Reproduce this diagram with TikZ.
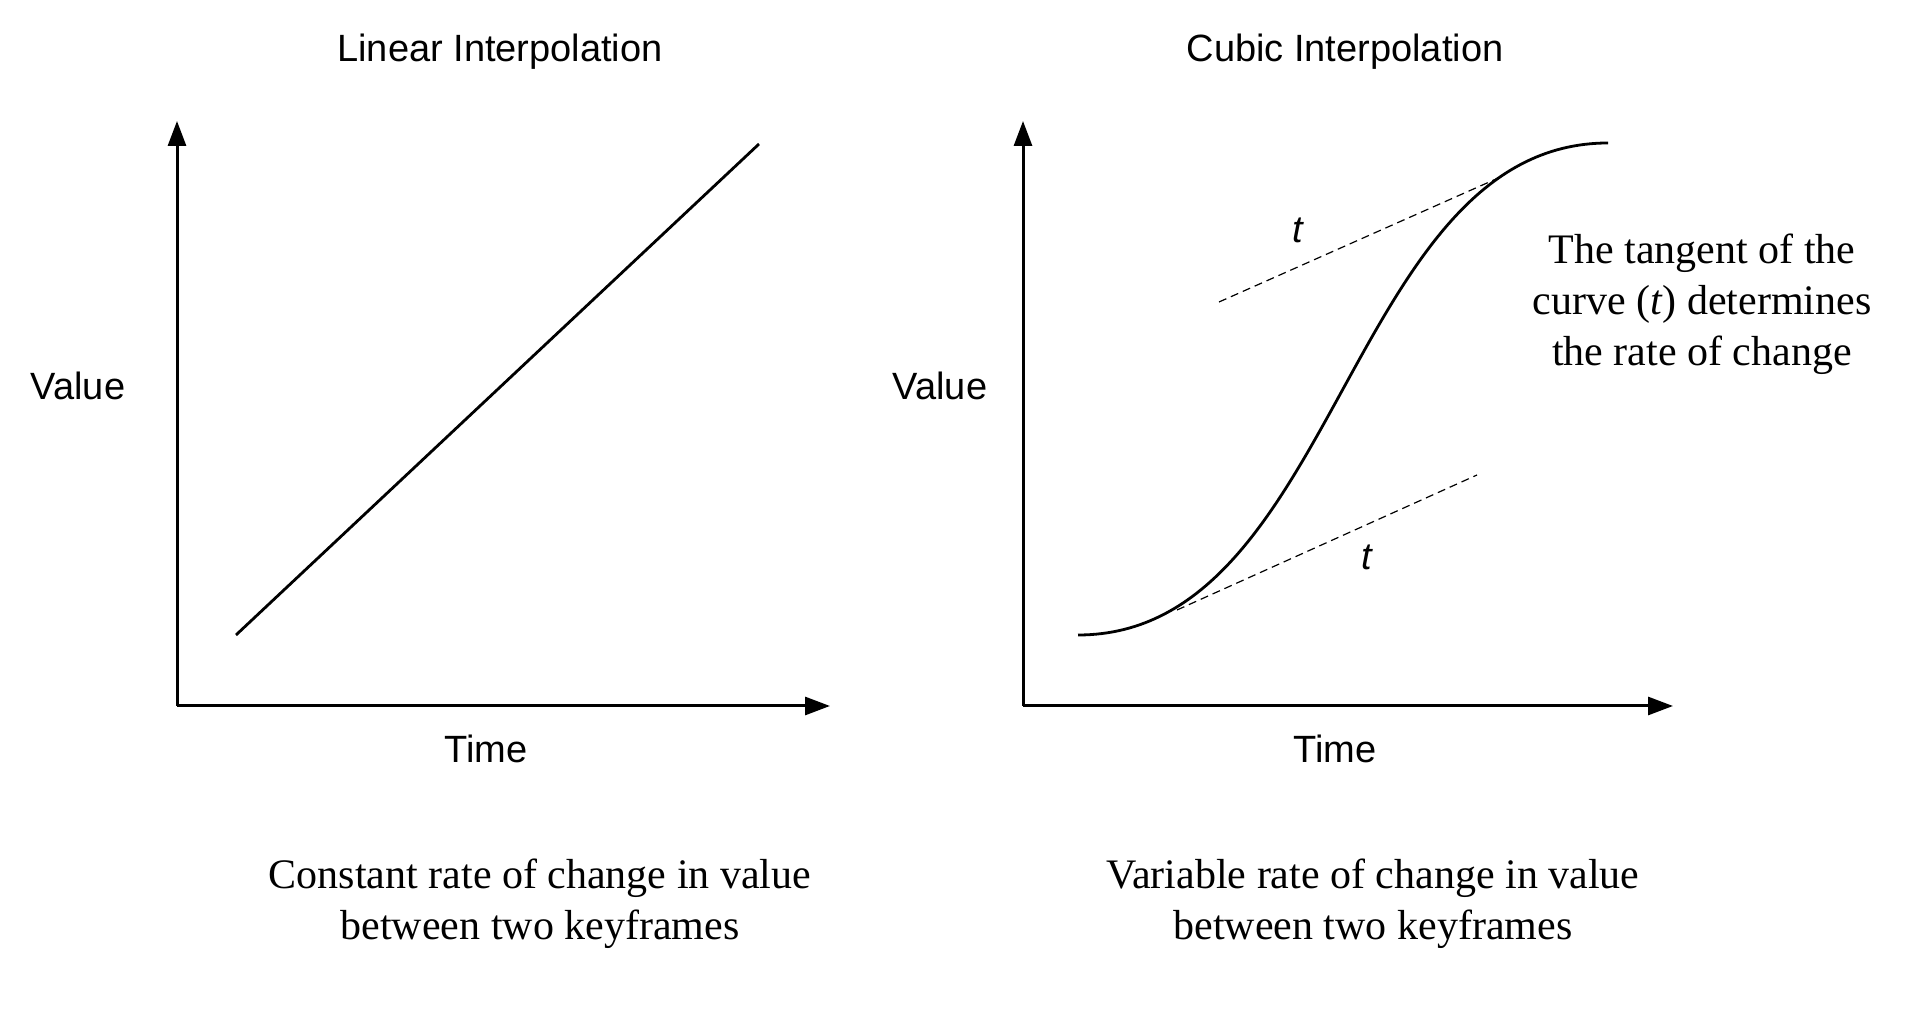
\documentclass[tikz,border=0pt]{standalone}
\usepackage{fontspec}
\setmainfont{Liberation Serif}
\setsansfont{Liberation Sans}
\usetikzlibrary{arrows.meta, positioning}

\begin{document}
\begin{tikzpicture}[
    x=0.5pt, y=-0.5pt,
    every node/.style={inner sep=0pt},
    sanslabel/.style={font=\sffamily\fontsize{19}{23}\selectfont},
    caption/.style={font=\fontsize{21}{25.5}\selectfont, align=center},
    tlabel/.style={font=\sffamily\itshape\fontsize{19}{23}\selectfont},
    axis/.style={-{Triangle[length=12.5pt, width=9pt]}, line width=1.5pt},
    curve/.style={line width=1.4pt},
    tangent/.style={dash pattern=on 4pt off 2.5pt, line width=0.6pt}
]
\useasboundingbox (0,0) rectangle (1919,1020);

% linear
\coordinate (o1) at (177,706);
\coordinate (y1) at (177,121);
\coordinate (x1) at (830,706);
\draw[axis] (o1) -- (y1);
\draw[axis] (o1) -- (x1);
\coordinate (a1) at (236,635);
\coordinate (b1) at (759,144);
\draw[curve] (a1) -- (b1);

\node[sanslabel] (lt) at (500,52) {Linear Interpolation};
\node[sanslabel] (lv) at (78,386) {Value};
\node[sanslabel] (lx) at (486,749) {Time};
\node[caption] (lc) at (540,904) {Constant rate of change in value\\between two keyframes};

% cubic
\coordinate (o2) at (1023,706);
\coordinate (y2) at (1023,121);
\coordinate (x2) at (1673,706);
\draw[axis] (o2) -- (y2);
\draw[axis] (o2) -- (x2);
\coordinate (a2) at (1078,635);
\coordinate (b2) at (1608,143);
\draw[curve] (a2) .. controls (1338,635) and (1348,143) .. (b2);

\coordinate (u1) at (1219,302);
\coordinate (u2) at (1496,179);
\coordinate (d1) at (1177,610);
\coordinate (d2) at (1477,475);
\draw[tangent] (u1) -- (u2);
\draw[tangent] (d1) -- (d2);
\node[tlabel] (tu) at (1298,230) {t};
\node[tlabel] (td) at (1367,557) {t};

\node[sanslabel] (ct) at (1345,52) {Cubic Interpolation};
\node[sanslabel] (cv) at (940,386) {Value};
\node[sanslabel] (cx) at (1335,749) {Time};
\node[caption] (cc) at (1373,904) {Variable rate of change in value\\between two keyframes};
\node[caption] (note) at (1702,304) {The tangent of the\\curve (\textit{t}) determines\\the rate of change};
\end{tikzpicture}
\end{document}
